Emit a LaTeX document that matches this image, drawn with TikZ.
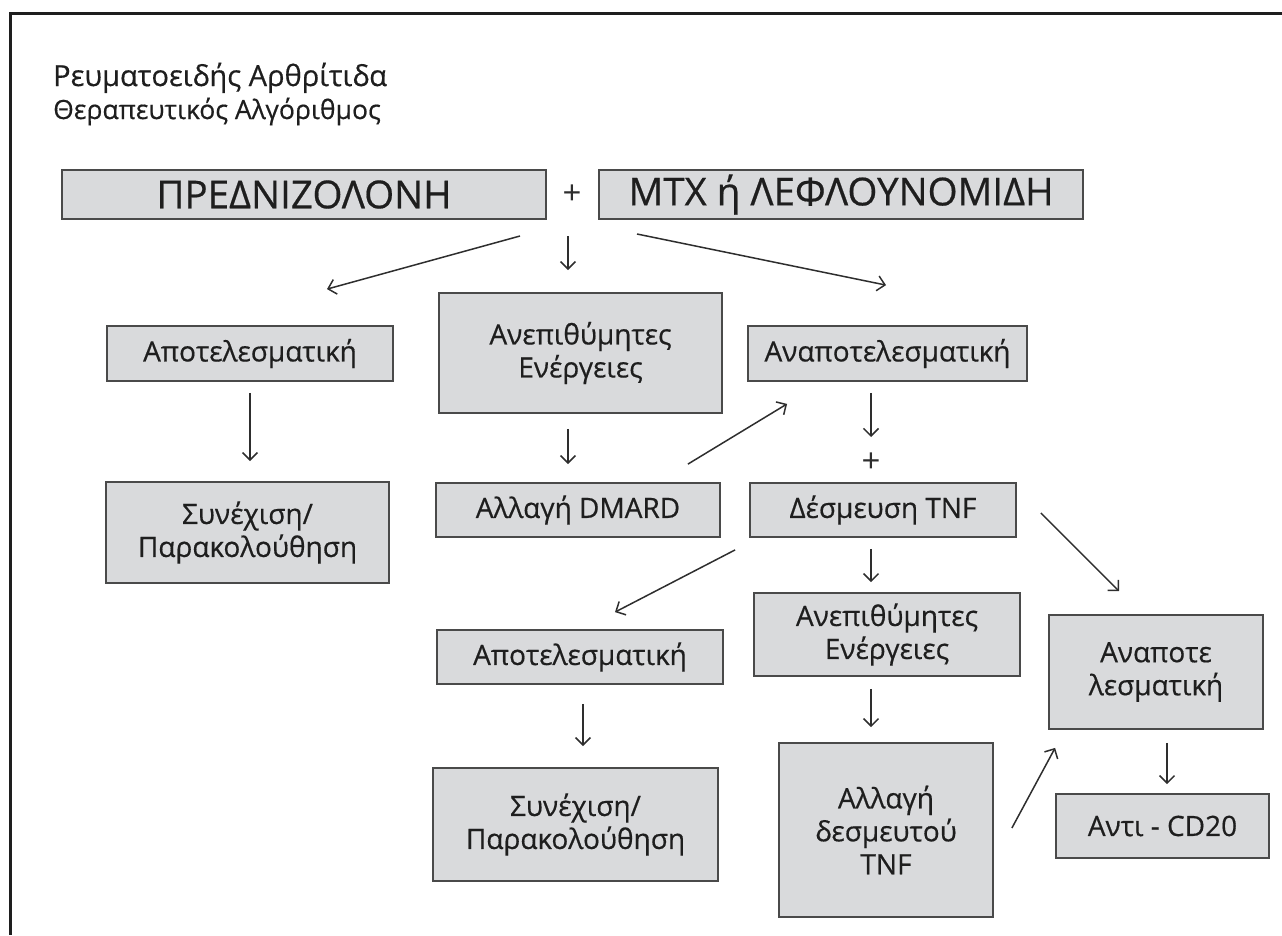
\documentclass[tikz,border=0pt]{standalone}
\usepackage{fontspec}
\setmainfont[AutoFakeBold=0.5]{Open Sans}
\usepackage{tikz}
\usetikzlibrary{arrows.meta,positioning}
\definecolor{boxfill}{HTML}{D9DADC}
\definecolor{boxline}{HTML}{4A4A4A}
\definecolor{inkc}{HTML}{1E1E1E}
\definecolor{arrc}{HTML}{2E2E2E}
\tikzset{gbox/.style={draw=boxline, fill=boxfill, line width=1.8pt, inner sep=0pt, align=center, text=inkc, font=\fontsize{28}{33}\selectfont\bfseries}}
\tikzset{bigbox/.style={gbox, font=\fontsize{38.5}{40}\selectfont\bfseries}}
\tikzset{dims/.style args={#1 by #2}{minimum width=#1pt, minimum height=#2pt}}
\tikzset{arr/.style={draw=arrc, line width=1.5pt, -{Straight Barb[length=7.5pt,width=15pt]}}}
\tikzset{plus/.style={inner sep=0pt, text=arrc, font=\fontsize{33}{35}\selectfont}}

\begin{document}
\begin{tikzpicture}[x=1pt, y=-1pt]
	\useasboundingbox (0,0) rectangle (1282,935);
	% frame
	\draw[line width=3pt, inkc] (1282,13) -- (10,13) -- (10,935);
	\node[anchor=base west, text=inkc, inner sep=0pt, font=\fontsize{29}{31}\selectfont\bfseries] (title) at (53,86) {Ρευματοειδής Αρθρίτιδα};
	\node[anchor=base west, text=inkc, inner sep=0pt, font=\fontsize{26.5}{28}\selectfont\bfseries] (subtitle) at (53,119) {Θεραπευτικός Αλγόριθμος};

	\node[bigbox, dims=484 by 49] (pred) at (304,194.5) {ΠΡΕΔΝΙΖΟΛΟΝΗ};
	\node[plus] (plus1) at (572,195) {+};
	\node[bigbox, dims=484 by 49] (mtx) at (841,194.5) {ΜΤΧ ή ΛΕΦΛΟΥΝΟΜΙΔΗ};

	\node[gbox, dims=286 by 55] (apot1) at (250,353.5) {Αποτελεσματική};
	\node[gbox, dims=283 by 120] (anep1) at (580.5,353) {Ανεπιθύμητες\\Ενέργειες};
	\node[gbox, dims=279 by 55] (anap1) at (887.5,353.5) {Αναποτελεσματική};

	\node[gbox, dims=283 by 101] (syn1) at (247.5,532.5) {Συνέχιση/\\Παρακολούθηση};
	\node[gbox, dims=284 by 54] (dmard) at (578,510) {Αλλαγή DMARD};
	\node[plus] (plus2) at (871,463) {+};
	\node[gbox, dims=266 by 54] (desm) at (883,510) {Δέσμευση TNF};

	\node[gbox, dims=286 by 54] (apot2) at (580,657) {Αποτελεσματική};
	\node[gbox, dims=266 by 83] (anep2) at (887,634.5) {Ανεπιθύμητες\\Ενέργειες};
	\node[gbox, dims=214 by 114] (anap2) at (1156,672) {Αναποτε\\λεσματική};

	\node[gbox, dims=285 by 113] (syn2) at (575.5,824.5) {Συνέχιση/\\Παρακολούθηση};
	\node[gbox, dims=214 by 174] (tnf) at (886,830) {Αλλαγή\\δεσμευτού\\TNF};
	\node[gbox, dims=213 by 64] (cd20) at (1162.5,826) {Αντι - CD20};

	% first choice
	\draw[arr] ([xshift=-52pt,yshift=-41pt]plus1.center) -- ([xshift=77pt,yshift=36pt]apot1.north);
	\draw[arr] ([xshift=-4pt,yshift=-41pt]plus1.center) -- ([xshift=-12.5pt,yshift=22pt]anep1.north);
	\draw[arr] ([xshift=65pt,yshift=-39pt]plus1.center) -- ([xshift=-1.5pt,yshift=40pt]anap1.north);

	\draw[arr] ([yshift=-11pt]apot1.south) -- ([xshift=2.5pt,yshift=20pt]syn1.north);
	\draw[arr] ([xshift=-12.5pt,yshift=-15pt]anep1.south) -- ([xshift=-10pt,yshift=18pt]dmard.north);
	\draw[arr] ([xshift=-33pt,yshift=18pt]dmard.north east) -- ([xshift=40pt,yshift=-22pt]anap1.south west);
	\draw[arr] ([xshift=-16.5pt,yshift=-11pt]anap1.south) -- ([yshift=26pt]plus2.center);

	% anti-TNF
	\draw[arr] ([xshift=-14pt,yshift=-12pt]desm.south west) -- ([xshift=35pt,yshift=17pt]apot2.north);
	\draw[arr] ([xshift=-12pt,yshift=-11pt]desm.south) -- ([xshift=-16pt,yshift=10pt]anep2.north);
	\draw[arr] ([xshift=24pt,yshift=-3pt]desm.east) -- ([xshift=-37pt,yshift=23pt]anap2.north);

	\draw[arr] ([xshift=3pt,yshift=-19pt]apot2.south) -- ([xshift=7.5pt,yshift=21pt]syn2.north);
	\draw[arr] ([xshift=-16pt,yshift=-12pt]anep2.south) -- ([xshift=-15pt,yshift=15pt]tnf.north);
	\draw[arr] ([xshift=18pt,yshift=2pt]tnf.east) -- ([xshift=7pt,yshift=-18pt]anap2.south west);
	\draw[arr] ([xshift=11pt,yshift=-13pt]anap2.south) -- ([xshift=4.5pt,yshift=9pt]cd20.north);
\end{tikzpicture}
\end{document}
